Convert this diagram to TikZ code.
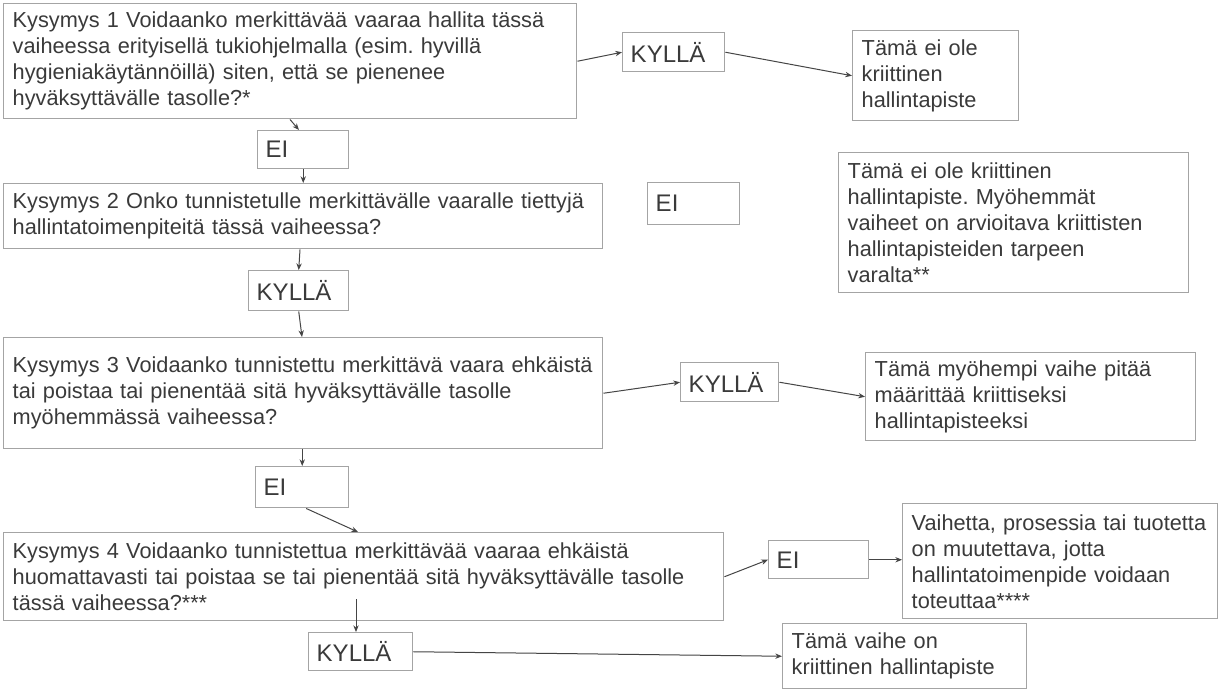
\documentclass[tikz,border=0pt]{standalone}
\usepackage{fontspec}
\setmainfont{Liberation Sans}
\usetikzlibrary{arrows.meta,calc}
\definecolor{edge}{HTML}{A4A4A4}
\definecolor{ink}{HTML}{3A3A3A}
\definecolor{arr}{HTML}{454545}
\frenchspacing
\begin{document}
\begin{tikzpicture}[x=0.75pt,y=-0.75pt,
  box/.style={draw=edge, line width=1.1pt, fill=white, anchor=north west,
    inner xsep=6.75pt, inner ysep=0pt, align=left, text=ink,
    font=\fontsize{16.3}{19.5}\selectfont},
  ans/.style={box, inner xsep=6pt, font=\fontsize{18}{20}\selectfont},
  link/.style={draw=arr, line width=0.75pt, -{Stealth[length=5pt,width=4pt]}}]
\useasboundingbox[fill=white] (0,0) rectangle (1219,690);

% questions
\node[box, minimum height=115*0.75pt, text width=555*0.75pt] (q1) at (3,3)
  {Kysymys 1 Voidaanko merkittävää vaaraa hallita tässä\\
   vaiheessa erityisellä tukiohjelmalla (esim. hyvillä\\
   hygieniakäytännöillä) siten, että se pienenee\\
   hyväksyttävälle tasolle?*};
\node[box, minimum height=65*0.75pt, text width=581*0.75pt] (q2) at (3,183)
  {Kysymys 2 Onko tunnistetulle merkittävälle vaaralle tiettyjä\\
   hallintatoimenpiteitä tässä vaiheessa?};
\node[box, minimum height=111*0.75pt, text width=581*0.75pt] (q3) at (3,337)
  {Kysymys 3 Voidaanko tunnistettu merkittävä vaara ehkäistä\\
   tai poistaa tai pienentää sitä hyväksyttävälle tasolle\\
   myöhemmässä vaiheessa?};
\node[box, minimum height=88*0.75pt, text width=702*0.75pt] (q4) at (3,532)
  {Kysymys 4 Voidaanko tunnistettua merkittävää vaaraa ehkäistä\\
   huomattavasti tai poistaa se tai pienentää sitä hyväksyttävälle tasolle\\
   tässä vaiheessa?***};

% answers
\node[ans, minimum height=39*0.75pt, text width=86*0.75pt] (ky1) at (622,32) {KYLLÄ};
\node[ans, minimum height=38*0.75pt, text width=75*0.75pt] (ei1) at (257,130) {EI};
\node[ans, minimum height=42*0.75pt, text width=76*0.75pt] (eif) at (647,182) {EI};
\node[ans, minimum height=40*0.75pt, text width=84*0.75pt] (ky2) at (248,270) {KYLLÄ};
\node[ans, minimum height=39*0.75pt, text width=82*0.75pt] (ky3) at (680,362) {KYLLÄ};
\node[ans, minimum height=41*0.75pt, text width=77*0.75pt] (ei3) at (255,466) {EI};
\node[ans, minimum height=38*0.75pt, text width=84*0.75pt] (ei4) at (768,540) {EI};
\node[ans, minimum height=38*0.75pt, text width=88*0.75pt] (ky4) at (308,632) {KYLLÄ};

% outcomes
\node[box, minimum height=90*0.75pt, text width=148*0.75pt] (t1) at (852,30)
  {Tämä ei ole\\ kriittinen\\ hallintapiste};
\node[box, minimum height=140*0.75pt, text width=332*0.75pt] (t2) at (838,152)
  {Tämä ei ole kriittinen\\ hallintapiste. Myöhemmät\\ vaiheet on arvioitava kriittisten\\ hallintapisteiden tarpeen\\ varalta**};
\node[box, minimum height=88*0.75pt, text width=312*0.75pt] (t3) at (865,352)
  {Tämä myöhempi vaihe pitää\\ määrittää kriittiseksi\\ hallintapisteeksi};
\node[box, minimum height=115*0.75pt, text width=297*0.75pt] (t4) at (902,503)
  {Vaihetta, prosessia tai tuotetta\\ on muutettava, jotta\\ hallintatoimenpide voidaan\\ toteuttaa****};
\node[box, minimum height=65*0.75pt, text width=226*0.75pt] (t5) at (782,623)
  {Tämä vaihe on\\ kriittinen hallintapiste};

% connectors
\coordinate (k4start) at ($(q4.south west)+(353,-22)$);
\draw[link] (q1.east) -- (ky1.west);
\draw[link] (ky1.east) -- (t1.west);
\draw[link] ($(q1.south west)+(287,0)$) -- ($(ei1.north west)+(42,0)$);
\draw[link] (ei1.south) -- (ei1.south |- q2.north);
\draw[link] ($(q2.south west)+(297,0)$) -- (ky2.north);
\draw[link] (ky2.south) -- ($(q3.north west)+(299,0)$);
\draw[link] (ei3.north |- q3.south) -- (ei3.north);
\draw[link] ($(ei3.south)+(4,0)$) -- ($(q4.north west)+(355,0)$);
\draw[link] (q3.east) -- (ky3.west);
\draw[link] (ky3.east) -- (t3.west);
\draw[link] (q4.east) -- (ei4.west);
\draw[link] (ei4.east) -- (ei4.east -| t4.west);
\draw[link] (k4start) -- ($(ky4.north west)+(48,0)$);
\draw[link] (ky4.east) -- (t5.west);
\end{tikzpicture}
\end{document}
